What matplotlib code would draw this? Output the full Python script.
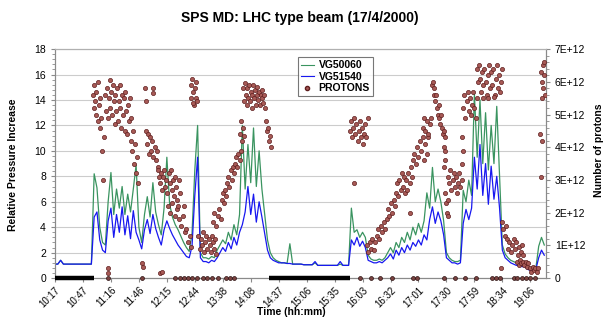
import numpy as np
import matplotlib
matplotlib.use("Agg")
import matplotlib.pyplot as plt
from matplotlib.lines import Line2D
from matplotlib.ticker import AutoMinorLocator, FuncFormatter

plt.rcParams["font.family"] = ["Liberation Sans", "DejaVu Sans"]

# ── Time axis: one sample per step, a labelled tick every 10 samples ─────────
TICK_LABELS = ["10:17", "10:47", "11:16", "11:46", "12:15", "12:44", "13:38",
               "14:08", "14:37", "15:06", "15:35", "16:03", "16:32", "17:01",
               "17:30", "17:59", "18:34", "19:06"]

# ── Relative pressure increase (gauge VG51540) ───────────────────────────────
VG51540 = [
    1.1, 1.1, 1.4, 1.1, 1.1, 1.1, 1.1, 1.1, 1.1, 1.1, 1.1, 1.1, 1.1, 1.1,
    4.8, 5.2, 3.0, 2.2, 2.0, 4.5, 5.5, 3.2, 5.0, 3.6, 5.6, 3.4, 4.9, 3.1,
    5.3, 3.6, 3.0, 2.3, 3.8, 4.6, 3.5, 5.0, 3.9, 3.2, 2.6, 3.8, 4.5, 3.9,
    3.4, 3.0, 2.6, 2.3, 2.0, 1.7, 1.6, 2.5, 6.5, 9.5,
    1.6, 1.3, 1.3, 1.2, 1.4, 1.3, 1.6, 2.0, 2.4, 2.1, 2.8, 2.3, 3.2, 2.6,
    3.6, 4.2, 5.2, 7.2, 5.0, 6.6, 4.4, 6.0, 4.8, 3.5, 2.2, 1.6, 1.4, 1.3, 1.2,
    1.2, 1.2, 1.15, 1.15, 1.1, 1.1, 1.1, 1.1, 1.05, 1.05, 1.05, 1.05, 1.3,
    1.0, 1.0, 1.0, 1.0, 1.0, 1.0, 1.0, 1.0, 1.3, 1.0, 1.0, 1.0,
    3.0, 2.6, 3.2, 2.5, 2.9, 2.4, 1.4, 1.3, 1.2, 1.2, 1.3, 1.2, 1.4, 1.6,
    1.9, 1.5, 2.2, 1.8, 2.4, 2.0, 2.6, 2.2, 2.8, 2.5, 3.0, 2.6, 3.4, 3.0,
    4.6, 5.6, 4.3, 5.2, 4.5, 3.4, 1.6, 1.4, 1.2, 1.2, 1.1, 1.2,
    4.3, 5.4, 4.6, 5.5, 9.5, 7.0, 10.5, 6.5, 9.0, 5.8, 8.8, 6.2, 8.0, 5.5,
    2.2, 1.6, 1.4, 1.2, 1.1, 1.0, 1.0, 0.9, 0.9, 0.7, 0.6, 0.6, 0.7, 1.6,
    2.2, 1.8,
]

# ── Relative pressure increase (gauge VG50060) ───────────────────────────────
VG50060 = [
    1.1, 1.1, 1.4, 1.1, 1.1, 1.1, 1.1, 1.1, 1.1, 1.1, 1.1, 1.1, 1.1, 1.1,
    8.2, 7.1, 4.0, 2.8, 2.6, 6.0, 8.3, 5.0, 7.0, 5.5, 7.2, 5.0, 6.6, 5.2,
    7.0, 8.9, 4.0, 2.8, 5.0, 6.4, 4.8, 7.5, 5.2, 4.2, 3.4, 5.5, 9.5, 5.8,
    4.8, 4.2, 3.8, 3.3, 2.8, 2.4, 2.1, 3.5, 8.5, 12.0,
    2.0, 1.6, 1.6, 1.5, 1.7, 1.6, 2.2, 2.6, 3.0, 2.7, 3.6, 3.0, 4.2, 3.4,
    5.0, 12.0, 7.0, 10.5, 7.5, 11.8, 7.2, 10.0, 7.0, 5.0, 3.0, 2.0, 1.6,
    1.4, 1.3,
    1.2, 1.2, 1.15, 2.7, 1.1, 1.1, 1.1, 1.1, 1.05, 1.05, 1.05, 1.05, 1.2,
    1.0, 1.0, 1.0, 1.0, 1.0, 1.0, 1.0, 1.0, 1.1, 1.0, 1.0, 1.0,
    5.5, 3.6, 3.8, 3.2, 3.6, 3.2, 1.8, 1.5, 1.4, 1.4, 1.5, 1.4, 1.6, 2.0,
    2.4, 2.0, 2.8, 2.4, 3.2, 2.8, 3.6, 3.0, 4.0, 3.4, 4.3, 3.6, 4.5, 6.7,
    5.5, 8.7, 6.0, 7.0, 6.0, 4.5, 2.0, 1.6, 1.4, 1.3, 1.3, 1.4,
    6.9, 6.0, 7.7, 6.5, 14.5, 9.5, 14.0, 9.0, 13.0, 8.5, 12.0, 9.0, 13.5,
    8.0, 2.6, 1.9, 1.6, 1.4, 1.3, 1.2, 1.1, 1.0, 1.0, 0.8, 0.7, 0.7, 0.8,
    2.5, 3.2, 2.6,
]

# ── Protons in the machine, (sample, intensity / 1E12) ───────────────────────
PROTON_SAMPLES = [
    # 11:16 - 11:46 fill
    (13.5, 5.6), (13.8, 5.2), (14.0, 5.9), (14.3, 5.4), (14.6, 5.0), (14.8, 5.7),
    (15.2, 4.8), (15.3, 6.0), (15.6, 5.3), (16.0, 4.6), (16.2, 5.5), (16.5, 4.9),
    (16.8, 3.9), (17.2, 3.0), (17.5, 4.3), (17.9, 5.6), (18.2, 5.1), (18.5, 5.8),
    (18.9, 4.9), (19.2, 5.5), (19.5, 6.05), (19.8, 5.2), (20.1, 5.7), (20.4, 5.0),
    (20.7, 5.9), (21.0, 5.4), (21.3, 4.7), (21.6, 5.6), (21.9, 5.1), (22.2, 5.8),
    (22.5, 4.8), (22.8, 5.4), (23.1, 5.9), (23.4, 5.2), (23.7, 4.6), (24.0, 5.6),
    (24.3, 5.0), (24.6, 5.5), (24.9, 4.5), (25.2, 5.7), (25.5, 5.1), (25.8, 4.4),
    (26.1, 5.3), (26.4, 4.8), (26.7, 5.5), (27.0, 4.2), (27.3, 4.9), (27.6, 3.9),
    (28.0, 4.5), (28.3, 3.5), (28.6, 4.1), (29.0, 3.2), (29.3, 3.7), (29.6, 2.9),
    (32.1, 5.8), (35.0, 5.8), (32.4, 5.4), (35.0, 5.65),
    (32.5, 4.5), (33.0, 4.1), (33.3, 4.4), (33.7, 3.8), (34.0, 4.3), (34.4, 3.9),
    (34.8, 4.2), (35.2, 3.7), (35.6, 4.0), (36.0, 3.6), (36.4, 3.9), (36.8, 3.4),
    (37.2, 3.1),
    (37.0, 3.3), (37.4, 2.9), (37.8, 3.2), (38.2, 2.7), (38.6, 3.1), (39.0, 3.3),
    (39.4, 2.8), (39.8, 3.0), (40.2, 2.6), (40.6, 3.2), (41.0, 2.9), (41.4, 3.3),
    (41.8, 2.7), (42.2, 3.0), (42.6, 2.5), (43.0, 3.1), (43.4, 2.8), (43.8, 2.4),
    (44.2, 3.0), (44.6, 2.6),
    (40.5, 2.2), (41.2, 2.0), (42.0, 2.3), (42.8, 1.9), (43.5, 2.1), (44.5, 1.8),
    (45.2, 1.6), (45.8, 1.9), (46.4, 1.4), (47.0, 1.5), (47.6, 1.1), (48.2, 1.3),
    (48.6, 0.95), (46.0, 2.2), (44.0, 2.2),
    (18.9, 0.15), (18.9, 0.3), (31.0, 0.45), (31.3, 0.35), (37.5, 0.15), (38.2, 0.2),
    # 12:44 fill
    (48.5, 5.9), (48.8, 5.5), (49.1, 6.1), (49.4, 5.7), (49.7, 5.3), (50.0, 5.8),
    (50.3, 6.0), (50.6, 5.5), (50.9, 5.4), (49.2, 5.35),
    (51.3, 1.3), (51.7, 0.9), (52.1, 1.2), (52.5, 1.0), (52.9, 1.4), (53.3, 0.8),
    (53.7, 1.1), (54.1, 1.3), (54.5, 0.9), (54.9, 1.2), (55.3, 1.0), (55.7, 0.8),
    (56.1, 1.3), (56.5, 1.1), (56.9, 0.9), (57.3, 1.2), (57.7, 0.75),
    # 13:38 - 14:08 ramp
    (56.5, 1.7), (57.0, 2.0), (57.6, 1.6), (58.2, 1.9), (58.8, 2.1), (59.3, 1.8),
    (59.6, 2.4), (60.0, 2.6), (60.4, 2.3), (60.8, 2.7), (61.2, 2.5), (61.6, 2.9),
    (62.0, 3.1), (62.4, 2.8), (62.8, 3.3), (63.2, 3.0), (63.6, 3.4), (64.0, 3.2),
    (64.4, 3.5), (64.8, 3.7), (65.2, 3.4), (65.6, 3.8), (66.0, 3.6), (66.4, 3.9),
    (66.3, 4.4), (66.6, 4.8), (66.9, 4.2), (67.2, 4.6), (67.5, 4.35),
    (67.3, 5.8), (67.6, 5.4), (67.9, 5.95), (68.2, 5.6), (68.5, 5.3), (68.8, 5.8),
    (69.1, 5.5), (69.4, 5.9), (69.7, 5.4), (70.0, 5.7), (70.3, 5.2), (70.6, 5.6),
    (70.9, 5.9), (71.2, 5.5), (71.5, 5.75), (71.8, 5.3), (72.1, 5.6), (72.4, 5.85),
    (72.7, 5.45), (73.0, 5.7), (73.3, 5.3), (73.6, 5.6), (73.9, 5.5), (74.2, 5.75),
    (74.5, 5.35), (74.8, 5.6), (75.1, 5.2),
    (75.3, 4.8), (75.7, 4.5), (76.1, 4.6), (76.5, 4.2), (76.9, 4.35), (77.2, 4.0),
    # 16:03 fill
    (105.4, 4.5), (105.8, 4.8), (106.2, 4.3), (106.6, 4.6), (107.0, 4.9),
    (107.4, 4.4), (107.8, 4.7), (108.2, 4.2), (108.6, 4.5), (109.0, 4.8),
    (109.4, 4.3), (109.8, 4.6), (110.2, 4.1), (110.6, 4.4), (111.0, 4.7),
    (111.4, 4.3), (111.8, 4.9), (107.1, 2.9),
    # 16:32 - 17:30 ramp
    (111.5, 1.0), (112.0, 0.8), (112.5, 1.1), (113.0, 0.9), (113.5, 1.2),
    (114.0, 0.85), (114.5, 1.1), (115.0, 1.3), (115.5, 1.5), (116.0, 1.2),
    (116.5, 1.6), (117.0, 1.4), (117.5, 1.7), (118.0, 1.5), (118.6, 1.8),
    (119.1, 2.1), (119.6, 1.9), (120.1, 2.3), (120.6, 2.0), (121.1, 2.4),
    (121.6, 2.2), (122.0, 2.6), (122.4, 2.9), (122.8, 2.5), (123.2, 3.0),
    (123.6, 2.7), (124.0, 3.2), (124.4, 2.8), (124.8, 3.1), (125.2, 2.6),
    (125.6, 3.0), (126.0, 2.7), (126.4, 3.2), (126.8, 2.9), (127.2, 3.4),
    (127.6, 3.1), (128.0, 3.6), (128.5, 3.8), (129.0, 3.5), (129.5, 4.0),
    (130.0, 3.7), (130.5, 4.2), (131.0, 3.9), (131.5, 4.3), (132.0, 3.6),
    (132.5, 4.1), (133.0, 3.8), (133.5, 4.3), (127.0, 2.0),
    (131.5, 4.6), (132.0, 4.9), (132.5, 4.5), (133.0, 4.8), (133.5, 4.4),
    (134.0, 4.7), (134.5, 4.9),
    (134.8, 5.9), (135.1, 6.0), (135.4, 5.6), (135.7, 5.8), (136.0, 5.4),
    (136.3, 5.6), (136.6, 5.2), (136.9, 5.0), (137.2, 5.3), (137.5, 4.9),
    (137.8, 4.7), (138.1, 5.0), (138.4, 4.6), (138.7, 4.4), (139.0, 4.5),
    (139.3, 4.0), (139.6, 3.6), (139.3, 3.4), (139.4, 4.3), (139.5, 3.9),
    (139.5, 2.6), (139.8, 2.3), (140.1, 2.0), (140.4, 2.4), (140.7, 1.9),
    (140.5, 3.1), (141.0, 2.9), (141.4, 3.3), (141.8, 2.7), (142.2, 3.0),
    (142.6, 3.2), (143.0, 2.8), (143.4, 3.1), (143.8, 2.6), (144.2, 2.9),
    (144.6, 3.2), (145.0, 2.8), (145.4, 3.0),
    (145.7, 4.3), (145.8, 3.9), (145.7, 3.5),
    (146.0, 5.2), (146.4, 5.6), (146.8, 4.9), (147.2, 5.4), (147.6, 5.7),
    (148.0, 5.1), (148.4, 5.5), (148.8, 5.0), (149.2, 5.3), (149.6, 5.7),
    (150.0, 5.2), (150.4, 4.9), (150.8, 5.5),
    # 17:59 - 18:34 fill
    (150.8, 6.4), (151.2, 6.0), (151.6, 6.5), (152.0, 6.1), (152.4, 5.7),
    (152.8, 6.3), (153.2, 5.9), (153.6, 6.4), (154.0, 6.0), (154.4, 5.6),
    (154.8, 6.2), (155.2, 6.5), (155.6, 5.8), (156.0, 6.3), (156.4, 5.9),
    (156.8, 6.4), (157.2, 5.6), (157.6, 6.1), (158.0, 6.5), (158.4, 5.8),
    (158.8, 6.2), (159.2, 5.7), (159.6, 6.0), (160.0, 6.4), (153.0, 5.5),
    (155.0, 5.5), (157.0, 5.55),
    (160.0, 1.7), (160.4, 1.5), (160.8, 1.3), (161.2, 1.6),
    (161.5, 1.2), (162.0, 0.9), (162.5, 1.1), (163.0, 0.8), (163.5, 1.0),
    (164.0, 1.2), (164.5, 0.9), (165.0, 1.1), (165.5, 0.7), (166.0, 0.95),
    (166.5, 0.8), (167.0, 1.0), (167.4, 0.7),
    (165.3, 0.5), (165.8, 0.4), (166.3, 0.55), (166.8, 0.45), (167.3, 0.5),
    (167.8, 0.4), (168.3, 0.5), (168.8, 0.35), (169.3, 0.45),
    (169.8, 0.3), (170.3, 0.2), (170.8, 0.35), (171.3, 0.25), (171.8, 0.3),
    (172.3, 0.2), (172.8, 0.3), (159.5, 0.3),
    # 19:06 onwards
    (173.8, 6.3), (174.1, 6.0), (174.4, 6.5), (174.7, 5.8), (175.0, 6.2),
    (175.3, 5.6), (174.2, 5.5), (174.9, 6.6),
    (173.6, 4.4), (174.2, 4.2), (173.9, 3.1),
]

# samples where no beam was recorded
PROTON_ZERO_RUNS = [(0.0, 14.0), (76.5, 105.5)]
PROTON_ZERO_SAMPLES = [
    18.9, 31.0, 42.9, 44.6, 46.0, 47.5, 49.0, 50.7, 52.9, 54.3, 56.0, 58.2,
    61.0, 62.5, 64.0, 109.0, 112.9, 116.4, 120.4, 128.2, 129.6, 139.3, 142.9,
    146.8, 150.4, 156.4, 157.9, 159.3, 164.3, 165.4, 167.1, 168.6, 170.0, 171.8,
]

GREEN = "#3a9460"
BLUE = "#1818f0"
DOT_FACE = "#a85a56"
DOT_EDGE = "#5e1e1e"
AXIS_GREY = "#8a8a8a"

t = np.arange(len(VG51540))

fig = plt.figure(figsize=(6.08, 3.23), dpi=100)
ax = fig.add_axes([0.0905, 0.139, 0.807, 0.709])

ax.plot(t, VG50060, color=GREEN, lw=0.9, zorder=3)
ax.plot(t, VG51540, color=BLUE, lw=0.9, zorder=4)

ax.set_xlim(0, 175.5)
ax.set_ylim(0, 18)
ax.set_yticks(range(0, 19, 2))
ax.yaxis.set_minor_locator(AutoMinorLocator(5))
ax.grid(axis="y", color="#cccccc", lw=0.8)
ax.set_axisbelow(True)

ax.set_xticks(np.arange(0, 10 * len(TICK_LABELS), 10))
ax.set_xticklabels(TICK_LABELS, rotation=45, ha="right",
                   rotation_mode="anchor", fontsize=7)
ax.tick_params(axis="y", labelsize=7.5, length=3, color=AXIS_GREY)
ax.tick_params(axis="y", which="minor", length=2, color=AXIS_GREY)
ax.tick_params(axis="x", length=3, color=AXIS_GREY, pad=2)

# ── Protons on the right-hand axis ────────────────────────────────────────────
ax2 = ax.twinx()
pt = np.array([p[0] for p in PROTON_SAMPLES])
pn = np.array([p[1] for p in PROTON_SAMPLES])
ax2.scatter(pt, pn, s=9, facecolor=DOT_FACE, edgecolor=DOT_EDGE,
            linewidths=0.5, zorder=5)
for t0, t1 in PROTON_ZERO_RUNS:
    ax2.hlines(0, t0, t1, color="black", lw=3.2, clip_on=False, zorder=6)
ax2.scatter(PROTON_ZERO_SAMPLES, np.zeros(len(PROTON_ZERO_SAMPLES)), s=8,
            facecolor="#7a4240", edgecolor="#2a1010", linewidths=0.5,
            clip_on=False, zorder=6)

ax2.set_ylim(0, 7)
ax2.set_yticks(range(0, 8))
ax2.yaxis.set_minor_locator(AutoMinorLocator(5))
ax2.yaxis.set_major_formatter(
    FuncFormatter(lambda v, _: "0" if v == 0 else f"{int(v)}E+12"))
ax2.tick_params(axis="y", labelsize=7.5, length=3, color=AXIS_GREY)
ax2.tick_params(axis="y", which="minor", length=2, color=AXIS_GREY)
ax2.set_xlim(0, 175.5)

for a in (ax, ax2):
    for side in ("left", "right", "bottom", "top"):
        a.spines[side].set_color(AXIS_GREY)
    a.spines["top"].set_color("#b0b0b0")

# ── Text ─────────────────────────────────────────────────────────────────────
fig.text(0.493, 0.944, "SPS MD: LHC type beam (17/4/2000)", ha="center",
         va="center", fontsize=10, weight="bold")
fig.text(0.479, 0.034, "Time (hh:mm)", ha="center", va="center",
         fontsize=7.5, weight="bold")
fig.text(0.021, 0.489, "Relative Pressure Increase", rotation=90,
         ha="center", va="center", fontsize=7.5, weight="bold")
fig.text(0.985, 0.535, "Number of protons", rotation=90,
         ha="center", va="center", fontsize=7.5, weight="bold")

handles = [
    Line2D([], [], color=GREEN, lw=0.8),
    Line2D([], [], color=BLUE, lw=0.8),
    Line2D([], [], ls="none", marker="o", ms=3, mfc=DOT_FACE, mec=DOT_EDGE),
]
leg = ax2.legend(handles, ["VG50060", "VG51540", "PROTONS"], loc="upper left",
                 bbox_to_anchor=(0.495, 0.965), fontsize=7.5, frameon=True,
                 fancybox=False, handlelength=1.2, handletextpad=0.5,
                 borderpad=0.3, labelspacing=0.15, borderaxespad=0)
leg.get_frame().set_edgecolor("#555555")
leg.get_frame().set_linewidth(0.8)
for txt in leg.get_texts():
    txt.set_weight("bold")

fig.savefig("out.png", dpi=100)
